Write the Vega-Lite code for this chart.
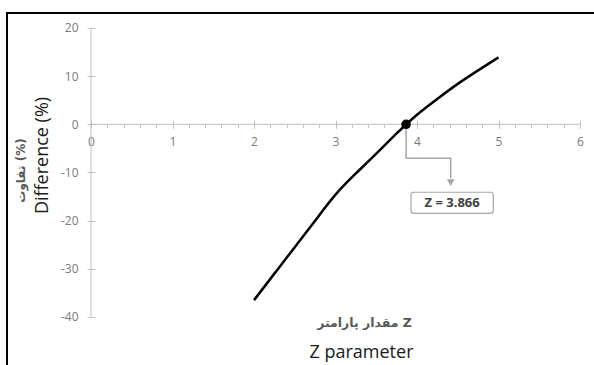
{
  "$schema": "https://vega.github.io/schema/vega-lite/v6.json",
  "width": 600,
  "height": 360,
  "autosize": {"type": "none"},
  "padding": {"left": 7, "top": 13, "right": 0, "bottom": 0},
  "background": "white",
  "config": {
    "view": {"stroke": "black", "strokeWidth": 2},
    "axis": {
      "grid": false,
      "labelFont": "Open Sans",
      "labelFontSize": 12,
      "labelColor": "#7a7a7a",
      "tickColor": "#bfbfbf",
      "tickWidth": 1,
      "labelOverlap": false,
      "labelFlush": false
    }
  },
  "datasets": {
    "curve": [
      {"z": 2.0, "d": -36.5},
      {"z": 2.25, "d": -31.0},
      {"z": 2.5, "d": -25.5},
      {"z": 2.75, "d": -20.0},
      {"z": 3.0, "d": -14.6},
      {"z": 3.25, "d": -10.2},
      {"z": 3.5, "d": -6.1},
      {"z": 3.75, "d": -1.9},
      {"z": 4.0, "d": 2.0},
      {"z": 4.25, "d": 5.3},
      {"z": 4.5, "d": 8.4},
      {"z": 4.75, "d": 11.2},
      {"z": 5.0, "d": 13.9}
    ],
    "axislines": [
      {"x": 0, "x2": 6, "y": 0, "y2": 0},
      {"x": 0, "x2": 0, "y": -40, "y2": 20}
    ],
    "connector": [
      {"x": 3.866, "y": 0, "o": 1},
      {"x": 3.866, "y": -7.06, "o": 2},
      {"x": 4.413, "y": -7.06, "o": 3},
      {"x": 4.413, "y": -11.2, "o": 4}
    ],
    "arrow": [{"x": 4.413, "y": -12.1}],
    "box": [{"x": 3.926, "x2": 4.936, "y": -14.1, "y2": -18.5}],
    "label": [{"x": 4.431, "y": -16.3, "text": "Z = 3.866"}],
    "crossing": [{"x": 3.866, "y": 0}]
  },
  "resolve": {"axis": {"x": "independent", "y": "independent"}},
  "layer": [
    {
      "data": {"name": "axislines"},
      "mark": {"type": "rule", "color": "#bfbfbf", "strokeWidth": 1},
      "encoding": {
        "x": {
          "field": "x", "type": "quantitative",
          "scale": {"domain": [-1.0307, 6.331], "nice": false, "zero": false},
          "axis": {
            "orient": "bottom", "offset": -248.7,
            "values": [0, 1, 2, 3, 4, 5, 6], "domain": false, "labels": false,
            "tickSize": -4, "title": null
          }
        },
        "x2": {"field": "x2"},
        "y": {
          "field": "y", "type": "quantitative",
          "scale": {"domain": [-51.63, 23.11], "nice": false, "zero": false},
          "axis": {
            "orient": "left", "offset": -84,
            "values": [-40, -30, -20, -10, 0, 10, 20], "domain": false, "labels": false,
            "tickSize": -4,
            "title": "تفاوت (%)",
            "titleFont": "DejaVu Sans", "titleFontSize": 12, "titleFontWeight": "bold",
            "titleColor": "#595959", "titleAngle": -90,
            "titleX": -71, "titleY": 157, "titleAlign": "center", "titleBaseline": "middle"
          }
        },
        "y2": {"field": "y2"}
      }
    },
    {
      "data": {"name": "curve"},
      "mark": {"type": "line", "color": "black", "strokeWidth": 2.5, "interpolate": "natural"},
      "encoding": {
        "x": {
          "field": "z", "type": "quantitative",
          "axis": {
            "orient": "bottom", "offset": -248.7,
            "values": [0, 1, 2, 3, 4, 5, 6], "domain": false,
            "tickSize": 4, "labelPadding": 8, "title": null
          }
        },
        "y": {
          "field": "d", "type": "quantitative",
          "axis": {
            "orient": "left", "offset": -84,
            "values": [-40, -30, -20, -10, 0, 10, 20], "domain": false,
            "labelExpr": "datum.value + ''",
            "tickSize": 4, "labelPadding": 9,
            "title": "Difference (%)",
            "titleFont": "Open Sans", "titleFontSize": 18, "titleFontWeight": "normal",
            "titleColor": "#1a1a1a", "titleAngle": -90,
            "titleX": -49, "titleY": 142, "titleAlign": "center", "titleBaseline": "middle"
          }
        }
      }
    },
    {
      "data": {"name": "connector"},
      "mark": {"type": "line", "color": "#a6a6a6", "strokeWidth": 1.5},
      "encoding": {
        "x": {
          "field": "x", "type": "quantitative",
          "axis": {
            "orient": "bottom", "offset": -248.7,
            "values": [0.2, 0.4, 0.6, 0.8, 1.2, 1.4, 1.6, 1.8, 2.2, 2.4, 2.6, 2.8, 3.2, 3.4, 3.6, 3.8, 4.2, 4.4, 4.6, 4.8, 5.2, 5.4, 5.6, 5.8],
            "domain": false, "labels": false, "tickSize": 3, "title": null
          }
        },
        "y": {"field": "y", "type": "quantitative", "axis": null},
        "order": {"field": "o", "type": "quantitative"}
      }
    },
    {
      "data": {"name": "arrow"},
      "mark": {"type": "point", "shape": "triangle-down", "filled": true, "color": "#a6a6a6", "opacity": 1, "size": 60},
      "encoding": {
        "x": {"field": "x", "type": "quantitative", "axis": null},
        "y": {"field": "y", "type": "quantitative", "axis": null}
      }
    },
    {
      "data": {"name": "box"},
      "mark": {"type": "rect", "fill": "white", "stroke": "#a6a6a6", "strokeWidth": 1.2, "cornerRadius": 3},
      "encoding": {
        "x": {
          "field": "x", "type": "quantitative",
          "axis": {
            "orient": "bottom", "domain": false, "ticks": false, "labels": false,
            "title": "Z parameter", "titleFont": "Open Sans", "titleFontSize": 18,
            "titleFontWeight": "normal", "titleColor": "#1a1a1a",
            "titleX": 354, "titleY": -21, "titleAlign": "center", "titleBaseline": "middle"
          }
        },
        "x2": {"field": "x2"},
        "y": {"field": "y", "type": "quantitative", "axis": null},
        "y2": {"field": "y2"}
      }
    },
    {
      "data": {"name": "label"},
      "mark": {"type": "text", "font": "Open Sans", "fontSize": 13, "fontWeight": "bold", "color": "#404040"},
      "encoding": {
        "x": {
          "field": "x", "type": "quantitative",
          "axis": {
            "orient": "bottom", "domain": false, "ticks": false, "labels": false,
            "title": "مقدار پارامتر Z", "titleFont": "DejaVu Sans", "titleFontSize": 12.5,
            "titleFontWeight": "bold", "titleColor": "#595959",
            "titleX": 357, "titleY": -51, "titleAlign": "center", "titleBaseline": "middle"
          }
        },
        "y": {"field": "y", "type": "quantitative", "axis": null},
        "text": {"field": "text"}
      }
    },
    {
      "data": {"name": "crossing"},
      "mark": {"type": "point", "filled": true, "color": "black", "opacity": 1, "size": 90},
      "encoding": {
        "x": {"field": "x", "type": "quantitative", "axis": null},
        "y": {"field": "y", "type": "quantitative", "axis": null}
      }
    }
  ]
}
